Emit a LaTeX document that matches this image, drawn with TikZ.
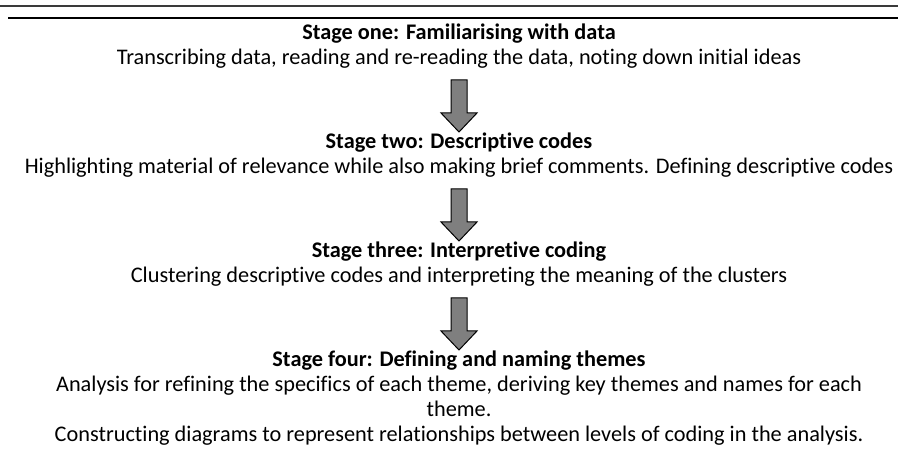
\documentclass[tikz,border=0pt]{standalone}
\usepackage{fontspec}
\setmainfont{Carlito}[RawFeature=-liga]
\begin{document}
\begin{tikzpicture}[x=1pt,y=-1pt,
  title/.style={font=\fontsize{22.3}{26}\selectfont\bfseries, inner sep=0pt, anchor=base},
  body/.style={font=\fontsize{22.3}{26}\selectfont, inner sep=0pt, anchor=base},
  downarrow/.style={fill=arrowgray, draw=black, line width=1pt, line join=miter}]
\definecolor{arrowgray}{HTML}{7F7F7F}
\definecolor{rulegray}{HTML}{3A3A3A}
\useasboundingbox (0,0) rectangle (898,454);
% rules
\coordinate (r1a) at (0,5.8);
\coordinate (r1b) at (898,5.8);
\coordinate (r2a) at (8,17.8);
\coordinate (r2b) at (898,17.8);
\draw[rulegray, line width=2.4pt] (r1a) -- (r1b);
\draw[black, line width=2.4pt] (r2a) -- (r2b);
% texts
\node[title] (t1) at (459,40) {Stage one: Familiarising with data};
\node[body] (b1) at (459,65) {Transcribing data, reading and re-reading the data, noting down initial ideas};
\node[title] (t2) at (459,149) {Stage two: Descriptive codes};
\node[body] (b2) at (459,174) {Highlighting material of relevance while also making brief comments. Defining descriptive codes};
\node[title] (t3) at (459,258) {Stage three: Interpretive coding};
\node[body] (b3) at (459,283) {Clustering descriptive codes and interpreting the meaning of the clusters};
\node[title] (t4) at (459,367) {Stage four: Defining and naming themes};
\node[body] (b4a) at (459,392) {Analysis for refining the specifics of each theme, deriving key themes and names for each};
\node[body] (b4b) at (459,417) {theme.};
\node[body] (b4c) at (459,442) {Constructing diagrams to represent relationships between levels of coding in the analysis.};
% arrows
\foreach \top/\nm in {80/a1,189/a2,298/a3}{
  \draw[downarrow] (451,\top) -- (467,\top) -- (467,\top+33) -- (477,\top+33)
    -- (459,\top+52) -- (441,\top+33) -- (451,\top+33) -- cycle;
}
\end{tikzpicture}
\end{document}
